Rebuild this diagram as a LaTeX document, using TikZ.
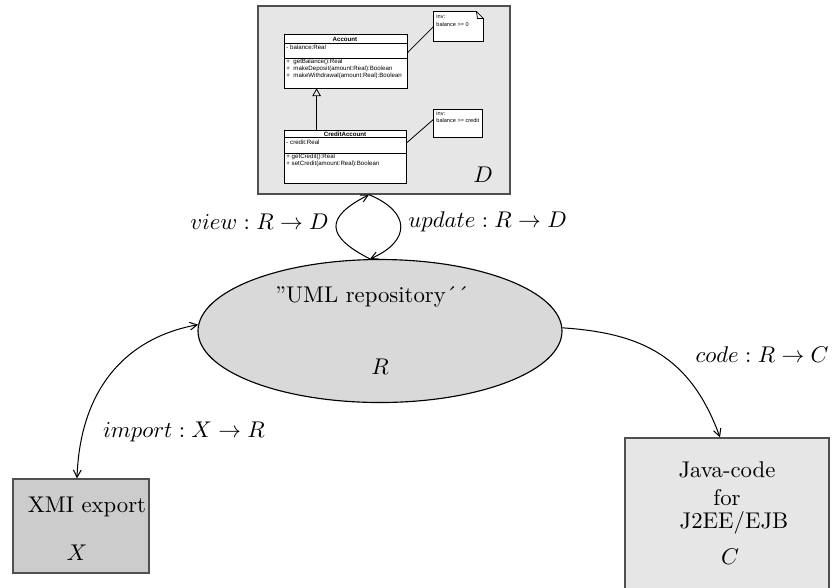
\documentclass[tikz,border=0pt]{standalone}
\usepackage{fontspec}
\newfontfamily\umlfont{Liberation Sans}
\usetikzlibrary{arrows.meta,calc,fit,shapes.geometric}

\definecolor{dfill}{RGB}{230,230,230}
\definecolor{rfill}{RGB}{217,217,217}
\definecolor{xfill}{RGB}{204,204,204}
\definecolor{cfill}{RGB}{230,230,230}
\definecolor{edge}{RGB}{80,80,80}

\tikzset{
  frame/.style={draw=edge, line width=0.6pt, inner sep=0pt},
  conn/.style={line width=0.45pt},
  barb/.style={-{Straight Barb[length=3.2pt,width=3.4pt]}},
  lbl/.style={inner sep=0pt},
  umltxt/.style={inner sep=0pt, font=\umlfont\fontsize{2.7}{3.2}\selectfont},
  notetxt/.style={inner sep=0pt, font=\umlfont\fontsize{2.45}{3}\selectfont},
  umltitle/.style={inner sep=0pt, font=\umlfont\bfseries\fontsize{2.7}{3.2}\selectfont},
  umlbox/.style={draw, line width=0.35pt, fill=white, inner sep=0pt},
  umlline/.style={line width=0.35pt},
}

\begin{document}
\begin{tikzpicture}[x=0.44pt,y=-0.44pt]
\useasboundingbox (0,0) rectangle (835,587);
\clip (0,0) rectangle (835,587);

% ---- class diagram D ----
\node[frame, fill=dfill, fit={(258,6) (510,194)}] (D) {};

\node[umlbox, fit={(284,34) (407,88)}] (acc) {};
\draw[umlline] (284,43) -- (407,43);
\draw[umlline] (284,58) -- (407,58);
\node[umltitle] (accT) at (345,39) {Account};
\node[umltxt, anchor=west] (accA) at (286,47.5) {- balance:Real};
\node[umltxt, anchor=west] (accM1) at (286,62) {+ \ getBalance():Real};
\node[umltxt, anchor=west] (accM2) at (286,69) {+ \ makeDeposit(amount:Real):Boolean};
\node[umltxt, anchor=west] (accM3) at (286,76) {+ \ makeWithdrawal(amount:Real):Boolean};

\node[umlbox, fit={(284,130) (406,183)}] (cred) {};
\draw[umlline] (284,137.5) -- (406,137.5);
\draw[umlline] (284,153) -- (406,153);
\node[umltitle] (credT) at (345,134) {CreditAccount};
\node[umltxt, anchor=west] (credA) at (286,142) {- credit:Real};
\node[umltxt, anchor=west] (credM1) at (286,156.5) {+ getCredit():Real};
\node[umltxt, anchor=west] (credM2) at (286,164) {+ setCredit(amount:Real):Boolean};

% generalization
\draw[umlline, -{Triangle[open,length=3.4pt,width=3.8pt]}]
  ($(cred.north west)+(33,0)$) -- ($(acc.south west)+(33,0)$);

% OCL notes
\node[inner sep=0pt, fit={(434,12) (483,41)}] (n1) {};
\draw[umlline, fill=white] (n1.north west) -- ($(n1.north east)+(-7,0)$) -- ($(n1.north east)+(0,7)$) -- (n1.south east) -- (n1.south west) -- cycle;
\draw[umlline] ($(n1.north east)+(-7,0)$) -- ($(n1.north east)+(-6,7)$) -- ($(n1.north east)+(0,7)$);
\node[notetxt, anchor=west] (n1a) at (436,16) {inv:};
\node[notetxt, anchor=west] (n1b) at (436,24.5) {balance >= 0};

\node[inner sep=0pt, fit={(434,110) (482,137)}] (n2) {};
\draw[umlline, fill=white] (n2.north west) -- (n2.north east) -- (n2.south east) -- (n2.south west) -- cycle;
\node[notetxt, anchor=west] (n2a) at (436,113.5) {inv:};
\node[notetxt, anchor=west] (n2b) at (436,120.5) {balance >= credit};

\draw[umlline] ($(acc.north east)!0.35!(acc.south east)$) -- ($(n1.north west)!0.5!(n1.south west)$);
\draw[umlline] ($(cred.north east)!0.25!(cred.south east)$) -- ($(n2.north west)!0.35!(n2.south west)$);

\node[lbl] (Dl) at (483,175) {$D$};

% ---- repository R ----
\node[ellipse, draw, line width=0.5pt, fill=rfill, minimum width=364*0.44pt,
      minimum height=143*0.44pt, inner sep=0pt] (R) at (380,331) {};
\node[lbl] (Rt) at (372,297) {''UML repository\'{}\'{}};
\node[lbl] (Rl) at (380,367) {$R$};

% ---- XMI export X ----
\node[frame, fill=xfill, fit={(13,479) (149,573)}] (X) {};
\node[lbl] (Xt) at (87,507) {XMI export};
\node[lbl] (Xl) at (77,553) {$X$};

% ---- generated code C ----
\node[frame, fill=cfill, fit={(625,438) (829,600)}] (C) {};
\node[lbl] (Ct1) at (727,470) {Java-code};
\node[lbl] (Ct2) at (727,498) {for};
\node[lbl] (Ct3) at (734,523) {J2EE/EJB};
\node[lbl] (Cl) at (730,557) {$C$};

% ---- mappings ----
\draw[conn, barb] ($(R.north)+(-10,0)$) .. controls (325,236) and (325,217) .. ($(D.south)+(-15,0)$);
\draw[conn, barb] ($(D.south)+(-15,0)$) .. controls (411,212) and (411,241) .. ($(R.north)+(-10,0)$);
\node[lbl, anchor=east] (view) at (329,222) {$view : R \rightarrow D$};
\node[lbl, anchor=west] (upd) at (408,222) {$update : R \rightarrow D$};

\draw[conn, {Straight Barb[length=3.2pt,width=3.4pt]}-{Straight Barb[length=3.2pt,width=3.4pt]}]
  ($(X.north)+(-4,0)$) .. controls (80,390) and (125,338) .. (R.178);
\node[lbl] (imp) at (184,432) {$import : X \rightarrow R$};

\draw[conn, barb] (R.1) .. controls (640,333) and (690,355) .. ($(C.north)+(-7,0)$);
\node[lbl] (code) at (762,355) {$code : R \rightarrow C$};
\end{tikzpicture}
\end{document}
